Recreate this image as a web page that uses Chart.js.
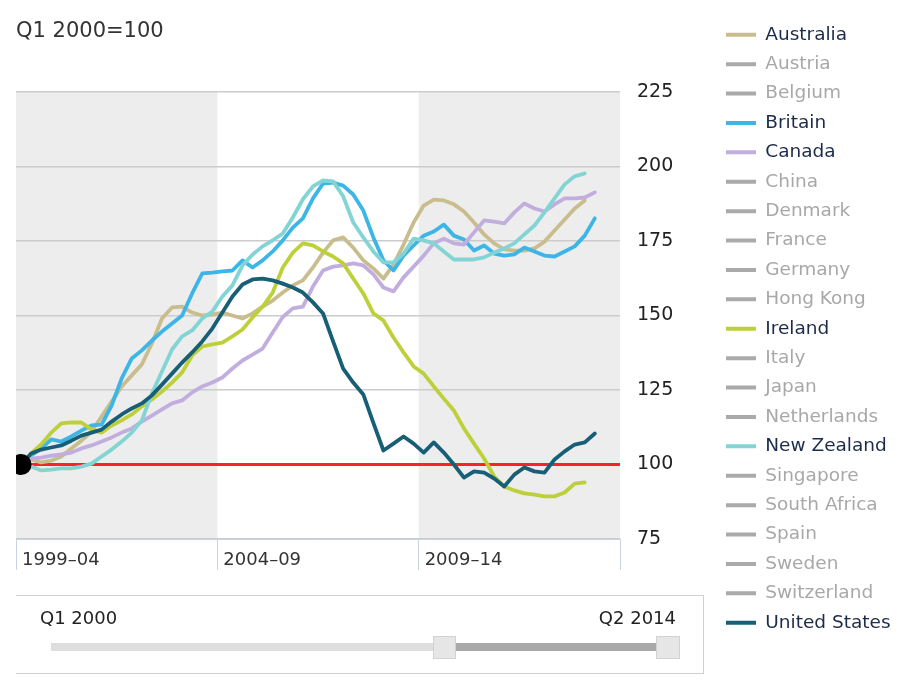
<!DOCTYPE html>
<html><head><meta charset="utf-8">
<script src="https://cdn.jsdelivr.net/npm/chart.js@4.4.1/dist/chart.umd.min.js"></script>
<style>
html,body{margin:0;padding:0;background:#fff;}
#wrap{position:relative;width:898px;height:683px;overflow:hidden;font-family:"DejaVu Sans",Verdana,sans-serif;}
#c{position:absolute;left:0;top:0;}
.ab{position:absolute;}
.txt{font-size:18px;line-height:21px;color:#222;white-space:nowrap;}
</style></head><body>
<div id="wrap">
<canvas id="c" width="898" height="683"></canvas>
<div class="ab" style="left:16px;top:595px;width:687px;height:77px;border-top:1px solid #cfcfcf;border-right:1px solid #cfcfcf;border-bottom:1px solid #cfcfcf;"></div>
<div class="ab txt" id="rs" style="left:40px;top:607px;"></div>
<div class="ab txt" id="re" style="right:222px;top:607px;"></div>
<div class="ab" style="left:51px;top:643px;width:390px;height:8px;background:#dedede;"></div>
<div class="ab" style="left:445px;top:643px;width:220px;height:8px;background:#a9a9a9;"></div>
<div class="ab" style="left:433px;top:636px;width:21px;height:21px;background:#e6e6e6;border:1px solid #d2d2d2;"></div>
<div class="ab" style="left:656px;top:636px;width:22px;height:21px;background:#e6e6e6;border:1px solid #d2d2d2;"></div>
</div>
<script>
// ---- data ----
const titleText = "Q1 2000=100";
const rangeLabels = ["Q1 2000", "Q2 2014"];
const bandLabels = ["1999\u201304", "2004\u201309", "2009\u201314"];
const bandEdges = [-0.5, 19.5, 39.5, 59.5];
const yTicks = [75, 100, 125, 150, 175, 200, 225];
const baseline = 100;

const countries = ["Australia","Austria","Belgium","Britain","Canada","China","Denmark","France","Germany","Hong Kong","Ireland","Italy","Japan","Netherlands","New Zealand","Singapore","South Africa","Spain","Sweden","Switzerland","United States"];

const australia = [100,101.7,100.7,101.3,102.7,105.4,108,111,116.1,121.1,126.2,129.9,133.6,140.6,149,152.7,153,151,150,150.3,151,150,149,150.7,153,155,157.7,160.1,161.8,166.1,171.1,175.2,176.2,172.8,168.5,165.8,162.4,167.1,173.8,181.2,186.9,188.9,188.6,187.3,184.9,181.2,177.2,174.2,172.2,171.8,171.8,172.5,174.8,178.5,182.2,185.9,188.6];
const britain = [100,103,105.4,108.4,107.7,109.4,111.4,113.1,113.4,119.8,128.9,135.6,138.3,141.6,144.6,147.3,150,157.4,164.1,164.4,164.8,165.1,168.5,166.1,168.5,171.5,175.2,179.5,182.6,189.3,194.3,194.6,193.6,190.6,185.2,176.2,168.5,165.1,170.1,173.5,176.8,178.2,180.5,176.8,175.5,171.8,173.5,170.8,170.1,170.5,172.8,171.5,170.1,169.8,171.5,173.2,176.8,182.6];
const canada = [100,102,102.3,103,103.4,104,105.4,106.4,107.7,109.1,110.7,112.1,114.4,116.4,118.5,120.5,121.5,124.2,126.2,127.5,129.2,132.2,134.9,136.9,138.9,144.3,149.5,152.4,153,159.7,165.1,166.4,166.8,167.5,166.8,163.8,159.4,158.1,162.8,166.4,170.1,174.2,175.8,174.2,173.8,177.9,181.9,181.5,180.9,184.6,187.6,185.9,184.9,187.3,189.3,189.3,189.6,191.3];
const ireland = [100,103.7,106.7,110.7,113.8,114.1,114.1,111.7,110.7,113.1,114.8,116.8,119.5,121.8,124.5,127.5,130.9,136.6,139.6,140.3,140.9,143,145.3,149.3,153,157.7,166.1,171.1,174.2,173.5,171.5,169.8,167.5,162.4,157.4,150.7,148.3,142.6,137.6,132.9,130.5,126.2,122.1,118.1,112.1,107,102,96,92.6,91.3,90.3,89.9,89.3,89.3,90.6,93.6,94];
const newZealand = [100,99.3,98,98.3,98.7,98.7,99.3,100.3,102.7,105,107.7,110.7,114.8,123.8,131.2,138.6,143,145,149,151.3,156.4,160.1,166.8,170.5,173.2,175.2,177.5,182.9,189,193.3,195.3,195,190,181.2,176.2,171.5,167.8,167.8,170.8,175.8,175.2,174.2,171.5,168.8,168.8,168.8,169.5,171.1,172.5,174.2,177.2,180.2,184.6,189.3,194,196.7,197.7];
const unitedStates = [100,103.7,105,105.7,106.4,108,109.7,110.7,111.7,114.4,116.8,118.8,120.5,123.2,126.8,130.5,134.2,137.6,141.3,145.6,151,156.4,160.4,162.1,162.4,161.8,160.7,159.4,157.7,154.4,150.7,141.3,132.2,127.5,123.5,114,104.7,107,109.4,107,104,107.4,104,100,95.6,97.7,97.3,95.3,92.6,96.6,99,97.7,97.3,101.7,104.4,106.7,107.4,110.4];

// ---- styles ----
const FONT = "'DejaVu Sans', Verdana, sans-serif";
const colors = {"Australia":"#c9bd8e","Britain":"#3db5e6","Canada":"#c2addf","Ireland":"#bdd03a","New Zealand":"#82d4d5","United States":"#175e76"};
const seriesData = {"Australia":australia,"Britain":britain,"Canada":canada,"Ireland":ireland,"New Zealand":newZealand,"United States":unitedStates};
const drawOrder = ["United States","New Zealand","Ireland","Canada","Britain","Australia"]; // first = on top

document.getElementById('rs').textContent = rangeLabels[0];
document.getElementById('re').textContent = rangeLabels[1];

const toXY = arr => arr.map((v, i) => ({x: i, y: v}));

const datasets = [];
datasets.push({label:'start', data:[{x:0, y:baseline}], showLine:false, pointRadius:10.5, pointBackgroundColor:'#000', pointBorderWidth:0});
drawOrder.forEach(name => {
  datasets.push({label:name, data:toXY(seriesData[name]), borderColor:colors[name], borderWidth:3.8, pointRadius:0, tension:0, fill:false, borderJoinStyle:'round', borderCapStyle:'round'});
});
datasets.push({label:'base', data:[{x:0, y:baseline},{x:bandEdges[bandEdges.length-1], y:baseline}], borderColor:'#ff2222', borderWidth:3, pointRadius:0, fill:false});

const bandPlugin = {
  id:'bands',
  beforeDraw(chart){
    const {ctx, chartArea:a, scales:{x}} = chart;
    ctx.save();
    ctx.fillStyle = '#ededed';
    for (let i = 0; i < bandEdges.length - 1; i += 2) {
      const x0 = x.getPixelForValue(bandEdges[i]), x1 = x.getPixelForValue(bandEdges[i+1]);
      ctx.fillRect(x0, a.top, x1 - x0, a.bottom - a.top);
    }
    ctx.restore();
  }
};

new Chart(document.getElementById('c'), {
  type:'line',
  data:{datasets},
  options:{
    responsive:false, animation:false, events:[],
    layout:{padding:{top:14.6, left:16, right:0, bottom:0}},
    plugins:{
      title:{display:true, text:titleText, align:'start', color:'#333', font:{family:FONT, size:21, weight:'normal'}, padding:{top:4.8, bottom:47.4}},
      legend:{position:'right', align:'start', onClick:null, maxWidth:182.9,
        labels:{font:{family:FONT, size:18.5}, boxWidth:30, boxHeight:4, padding:10.9,
          generateLabels:() => countries.map(n => ({text:n, fillStyle:colors[n] || '#aaaaaa', strokeStyle:colors[n] || '#aaaaaa', lineWidth:0, fontColor:colors[n] ? '#1c2b4a' : '#a8a8a8', hidden:false}))}},
      tooltip:{enabled:false}
    },
    scales:{
      x:{type:'linear', min:bandEdges[0], max:bandEdges[bandEdges.length-1],
        afterBuildTicks:s => { s.ticks = bandEdges.map(v => ({value:v})); },
        afterFit:s => { s.height = 144; },
        grid:{drawOnChartArea:false, tickLength:31, color:'#c8d3e3', lineWidth:1},
        border:{display:true, color:'#c8d3e3'},
        ticks:{align:'start', labelOffset:6, padding:-20, color:'#333', font:{family:FONT, size:18}, maxRotation:0, autoSkip:false,
          callback:(v, i) => bandLabels[i] || ''}},
      y:{position:'right', min:yTicks[0], max:yTicks[yTicks.length-1],
        afterBuildTicks:s => { s.ticks = yTicks.map(v => ({value:v})); },
        afterFit:s => { s.width = 95.1; },
        grid:{drawTicks:false, color:'#cccccc', lineWidth:1.5},
        border:{display:false},
        ticks:{padding:17, color:'#222', font:{family:FONT, size:19}, callback:v => String(v)}}
    }
  },
  plugins:[bandPlugin]
});
</script>
</body></html>
